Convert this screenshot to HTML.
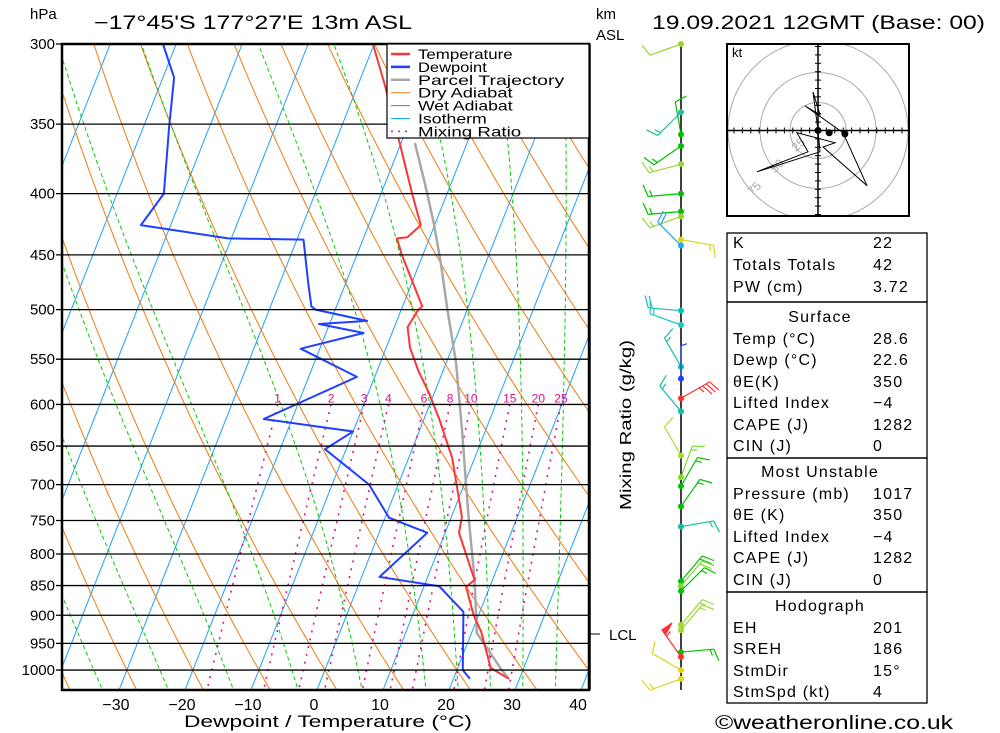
<!DOCTYPE html>
<html><head><meta charset="utf-8"><style>
html,body{margin:0;padding:0;background:#fff;}
svg{display:block;font-family:"Liberation Sans",sans-serif;}
</style></head><body>
<svg id="chart" width="1000" height="733" viewBox="0 0 1000 733" xmlns="http://www.w3.org/2000/svg">
<defs><clipPath id="plotclip"><rect x="62" y="44" width="527" height="646"/></clipPath>
<clipPath id="hclip"><rect x="728" y="45" width="180" height="170"/></clipPath></defs>
<rect width="1000" height="733" fill="#fff"/>
<g id="bg" clip-path="url(#plotclip)"></g>
<g id="prof" clip-path="url(#plotclip)"></g>
<g id="axes"></g>
<text x="30" y="19" font-size="15">hPa</text>
<text x="94" y="29" font-size="19" textLength="318" lengthAdjust="spacingAndGlyphs">−17°45'S 177°27'E 13m ASL</text>
<text x="596" y="19" font-size="15">km</text>
<text x="596" y="40" font-size="15">ASL</text>
<text x="652" y="29" font-size="19" textLength="333" lengthAdjust="spacingAndGlyphs">19.09.2021 12GMT (Base: 00)</text>
<text x="184" y="727" font-size="17" textLength="288" lengthAdjust="spacingAndGlyphs">Dewpoint / Temperature (°C)</text>
<text transform="translate(631,425) rotate(-90)" text-anchor="middle" font-size="16" textLength="170" lengthAdjust="spacingAndGlyphs">Mixing Ratio (g/kg)</text>
<g id="legend"></g>
<g id="barbs"></g>
<g id="hodo"></g>
<g id="table"></g>
<text x="715" y="729" font-size="19" textLength="238" lengthAdjust="spacingAndGlyphs">©weatheronline.co.uk</text>
</svg>
<script>
// ---- data ----
const tempP = [300,323,363,400,425,435,436,450,497,500,517,538,562,587,616,665,745,768,828,841,852,899,929,996,1017];
const tempT = [-30.2,-26.2,-20.2,-15.3,-12.1,-13.4,-14.9,-13.2,-7.0,-7.4,-8.0,-6.4,-3.8,-0.8,2.2,6.6,11.6,12.1,16.4,17.3,16.4,19.2,21.4,25.0,28.4];
const dewP = [300,320,352,400,425,436,437,475,497,500,511,514,523,539,569,617,632,654,700,746,768,836,851,894,1000,1017];
const dewT = [-62.0,-58.3,-56.1,-52.9,-54.5,-40.5,-29.0,-25.7,-23.8,-23.0,-14.5,-21.6,-14.3,-22.9,-12.7,-24.3,-10.0,-13.2,-4.4,0.6,7.3,2.7,12.3,17.5,20.9,22.5];
const parcelP = [363,392,422,457,500,554,630,739,841,931,1000,1017];
const parcelT = [-17.9,-14.0,-10.4,-6.8,-3.0,1.5,6.4,12.3,17.3,20.8,26.8,28.4];
const pressureTicks = [300,350,400,450,500,550,600,650,700,750,800,850,900,950,1000];
const tempTicks = [-30,-20,-10,0,10,20,30,40];
const mixRatios = [1,2,3,4,6,8,10,15,20,25];
const wetStarts = [-35,-25,-15,-5,5,15,20,25,30,35];
const barbP = [300,342,357,365,378,400,414,418,437,442,501,515,558,571,593,608,662,690,702,730,759,843,851,859,917,926,966,975,1000,1017];
const barbDir = [250,225,350,235,255,265,265,250,100,315,275,290,330,0,60,320,330,20,30,35,80,40,40,45,40,40,85,325,300,250];
const barbSpd = [10,15,10,15,15,15,15,15,15,20,20,15,15,5,35,15,10,15,15,15,15,20,20,15,15,15,15,55,10,15];
const barbCol = ['#9ad33a','#20c0a0','#00c000','#00c000','#9ad33a','#00c000','#00c000','#9ad33a','#d8d820','#20a8f0','#10c0b0','#20c8c0','#10c0a0','#2040ff','#ff3030','#10c0a0','#a8d830','#80d830','#00c000','#00c000','#10c0a0','#00c000','#80d830','#00c000','#a0d830','#a0d830','#00c000','#ff3030','#d8d820','#d8d820'];
const hodoU = [0,-4.5,1.8,-11.6,22.3,43.8,4.5,15.2,-18.8,-8.9,-54.5,1.8,0];
const hodoV = [0,34.5,14,22,-2,-49.4,-14.6,-11,-2,-19,-36.9,-19,0];
const tableRows = [
 ['K','22',248],['Totals Totals','42',270],['PW (cm)','3.72',292],
 ['Temp (°C)','28.6',344],['Dewp (°C)','22.6',365],['θE(K)','350',387],['Lifted Index','−4',408],['CAPE (J)','1282',430],['CIN (J)','0',451],
 ['Pressure (mb)','1017',499],['θE (K)','350',520],['Lifted Index','−4',542],['CAPE (J)','1282',563],['CIN (J)','0',585],
 ['EH','201',633],['SREH','186',654],['StmDir','15°',676],['StmSpd (kt)','4',697]];
const tableHeads = [['Surface',322],['Most Unstable',477],['Hodograph',611]];

// ---- axes ----
const NS='http://www.w3.org/2000/svg';
function yP(p){return 44+520*Math.log(p/300);}
function xT(T,y){return 317+6.6*T+0.395*(690-y);}
function mk(tag,attrs,parent){const e=document.createElementNS(NS,tag);for(const k in attrs)e.setAttribute(k,attrs[k]);parent.appendChild(e);return e;}
function poly(pts){return pts.map(p=>p[0].toFixed(1)+','+p[1].toFixed(1)).join(' ');}
const bg=document.getElementById('bg'),prof=document.getElementById('prof'),axes=document.getElementById('axes');

for(let T=-130;T<=40;T+=10){
  const l=mk('line',{x1:xT(T,690),y1:690,x2:xT(T,44),y2:44,stroke:'#1ea0ff','stroke-width':1},bg);
  
  
}
for(let T0=-40;T0<=160;T0+=10){
  const th=T0+273.15,pts=[];
  for(let p=280;p<=1060;p+=10){const T=th*Math.pow(p/1000,0.286)-273.15;const y=yP(p);pts.push([xT(T,y),y]);}
  const l=mk('polyline',{points:poly(pts),fill:'none',stroke:'#f07a10','stroke-width':1},bg);
  
  
}
function es(T){return 6.112*Math.exp(17.67*T/(T+243.5));}
function moistLapse(p,T){const Tk=T+273.15,rs=0.622*es(T)/(p-es(T)),Lv=2.5e6,Rd=287,cp=1004;
  return (Rd*Tk+Lv*rs)/(p*(cp+Lv*Lv*rs*0.622/(Rd*Tk*Tk)));}
wetStarts.forEach(T0=>{
  const up=[],dn=[];let T=T0;
  for(let p=1000;p>=280;p-=5){const y=yP(p);up.push([xT(T,y),y]);T-=moistLapse(p,T)*5;}
  T=T0;for(let p=1000;p<=1060;p+=5){const y=yP(p);dn.push([xT(T,y),y]);T+=moistLapse(p,T)*5;}
  const pts=dn.reverse().concat(up);
  const l=mk('polyline',{points:poly(pts),fill:'none',stroke:'#00cc00','stroke-width':1,'stroke-dasharray':'4,3'},bg);
  
  
});
function tdFromW(w,p){const e=w*p/(622+w);const a=Math.log(e/6.112);return 243.5*a/(17.67-a);}
mixRatios.forEach(w=>{
  const pts=[];for(let p=600;p<=1060;p+=10){const y=yP(p);pts.push([xT(tdFromW(w,p),y),y]);}
  const l=mk('polyline',{points:poly(pts),fill:'none',stroke:'#e0108f','stroke-width':1.6,'stroke-dasharray':'2,6'},bg);
  
  
  const y=yP(592);
  const t=mk('text',{x:xT(tdFromW(w,600),yP(600)),y:y+5,'font-size':12,fill:'#e0108f','text-anchor':'middle'},bg);
  t.textContent=w;
  
  
});
pressureTicks.forEach(p=>{
  const y=yP(p);
  const l=mk('line',{x1:56,y1:y,x2:589,y2:y,stroke:'#000','stroke-width':1.3},axes);
  
  
  const t=mk('text',{x:55,y:y+5,'font-size':15,'text-anchor':'end'},axes);
  t.textContent=p;
  
  
});
tempTicks.forEach(T=>{
  const x=xT(T,690);
  const t=mk('text',{x:x-3,y:710,'font-size':16,'text-anchor':'middle'},axes);
  t.textContent=(T<0?'−':'')+Math.abs(T);
  
  
});
const frame=mk('rect',{x:62,y:44,width:527,height:646,fill:'none',stroke:'#000','stroke-width':2.5},axes);


const rl=mk('line',{x1:590,y1:44,x2:590,y2:690,stroke:'#000','stroke-width':1.5},axes);


const lclT=mk('line',{x1:590,y1:634,x2:600,y2:634,stroke:'#000'},axes);


const lcl=mk('text',{x:609,y:640,'font-size':15},axes);lcl.textContent='LCL';



function profLine(P,T,col,w,name){
  const pts=P.map((p,i)=>{const y=yP(p);return [xT(T[i],y),y];});
  const l=mk('polyline',{points:poly(pts),fill:'none',stroke:col,'stroke-width':w,'stroke-linejoin':'round'},prof);
  
  
}
profLine(parcelP,parcelT,'#a8a8a8',2.5,'parcel-trajectory');
profLine(tempP,tempT,'#ff3535',2,'temperature-line');
profLine(dewP,dewT,'#2040ff',2,'dewpoint-line');

const lg=document.getElementById('legend');
const lbox=mk('rect',{x:387,y:44,width:202,height:94,fill:'#fff',stroke:'#000','stroke-width':1.2},lg);


[['Temperature','#ff3535',2.5,''],['Dewpoint','#2040ff',2.5,''],['Parcel Trajectory','#a8a8a8',2.5,''],['Dry Adiabat','#f07a10',1,''],['Wet Adiabat','#00cc00',1,''],['Isotherm','#1ea0ff',1,''],['Mixing Ratio','#e0108f',1.5,'2,5']].forEach((e,i)=>{
  const y=54+i*12.9;
  const l=mk('line',{x1:391,y1:y,x2:410,y2:y,stroke:e[1],'stroke-width':e[2],'stroke-dasharray':e[3]||'none'},lg);
  
  
  const t=mk('text',{x:418,y:y+5,'font-size':14,textLength:e[0].length*8.6,lengthAdjust:'spacingAndGlyphs'},lg);
  t.textContent=e[0];
  
  
});

const bgp=document.getElementById('barbs');
const staff=mk('line',{x1:681,y1:44,x2:681,y2:690,stroke:'#000','stroke-width':1.5},bgp);


barbP.forEach((p,i)=>{
  const y0=yP(p),x0=681,a=barbDir[i]*Math.PI/180,L=33,c=barbCol[i];
  const dx=Math.sin(a),dy=-Math.cos(a);
  const g=mk('g',{stroke:c,fill:c,'stroke-width':1.2},bgp);
  
  
  const ex=x0+dx*L,ey=y0+dy*L;
  mk('line',{x1:x0,y1:y0,x2:ex,y2:ey},g);
  const px=-dy,py=dx;let s=barbSpd[i],pos=0;
  while(s>=50){const bx=ex-dx*pos,by=ey-dy*pos;mk('polygon',{points:poly([[bx,by],[bx+px*12,by+py*12],[bx-dx*6,by-dy*6]])},g);pos+=8;s-=50;}
  while(s>=10){const bx=ex-dx*pos,by=ey-dy*pos;mk('line',{x1:bx,y1:by,x2:bx+px*12+dx*4,y2:by+py*12+dy*4},g);pos+=4;s-=10;}
  if(s>=5){const bx=ex-dx*pos,by=ey-dy*pos;mk('line',{x1:bx,y1:by,x2:bx+px*6+dx*2,y2:by+py*6+dy*2},g);}
  mk('circle',{cx:x0,cy:y0,r:3,stroke:'none'},g);
});

const hg=document.getElementById('hodo');
const hx=818,hy=130.5,hs=1.12;
const hbox=mk('rect',{x:727,y:44,width:182,height:172,fill:'#fff',stroke:'#000','stroke-width':2},hg);


const hcg=mk('g',{'clip-path':'url(#hclip)'},hg);
[25,50,75].forEach(r=>{
  const rad=r*hs+(r===75?6:r===50?2:0);
  const c=mk('circle',{cx:hx,cy:hy,r:rad,fill:'none',stroke:'#aaa','stroke-width':1},hcg);
  
  
  const ang=Math.PI*0.75,rr=rad-4;
  const t=mk('text',{transform:`translate(${hx+Math.cos(ang)*rr},${hy+Math.sin(ang)*rr}) rotate(-45)`,'font-size':12,fill:'#aaa','text-anchor':'middle'},hcg);
  t.textContent=r;
  
  
});
mk('line',{x1:728,y1:hy,x2:908,y2:hy,stroke:'#000','stroke-width':1.5},hcg);
mk('line',{x1:hx,y1:45,x2:hx,y2:215,stroke:'#000','stroke-width':1.5},hcg);
for(let k=-11;k<=11;k++){const d=k*8.4;
  mk('line',{x1:hx+d,y1:hy-3,x2:hx+d,y2:hy+3,stroke:'#000'},hcg);
  mk('line',{x1:hx-3,y1:hy+d,x2:hx+3,y2:hy+d,stroke:'#000'},hcg);}
const hl=mk('polyline',{points:poly(hodoU.map((u,i)=>[hx+u*hs,hy-hodoV[i]*hs])),fill:'none',stroke:'#000','stroke-width':1},hcg);


[[0,0],[10,-2],[24,-3]].forEach(d=>{mk('circle',{cx:hx+d[0]*hs,cy:hy-d[1]*hs,r:3.5,fill:'#000'},hcg);});
const kt=mk('text',{x:732,y:57,'font-size':13},hg);kt.textContent='kt';



const tb=document.getElementById('table');
[[233,302],[302,458],[458,592],[592,703]].forEach(b=>{
  const r=mk('rect',{x:727,y:b[0],width:200,height:b[1]-b[0],fill:'none',stroke:'#000','stroke-width':1.3},tb);
  
  
});
tableHeads.forEach(h=>{
  const t=mk('text',{x:820,y:h[1],'font-size':16,'text-anchor':'middle','letter-spacing':'1.2'},tb);
  t.textContent=h[0];
  
  
});
tableRows.forEach(r=>{
  const t=mk('text',{x:733,y:r[2],'font-size':16,'letter-spacing':'1.2'},tb);
  t.textContent=r[0];
  
  
  const v=mk('text',{x:873,y:r[2],'font-size':16,'letter-spacing':'1.2'},tb);
  v.textContent=r[1];
  
  
});
</script>
</body></html>
